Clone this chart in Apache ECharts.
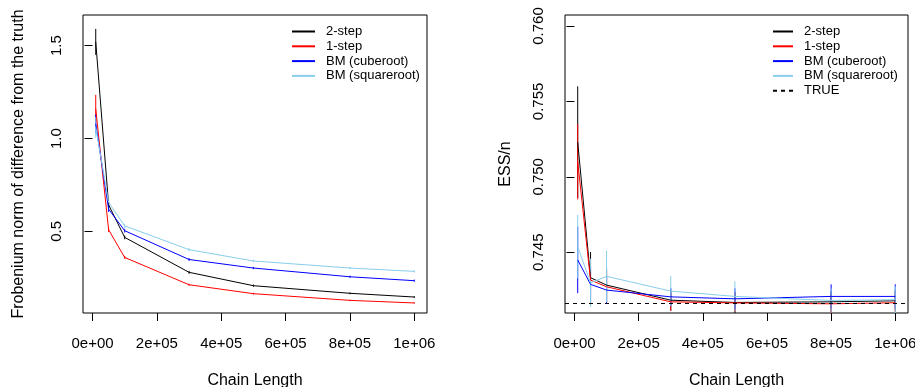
<!DOCTYPE html>
<html>
<head>
<meta charset="utf-8">
<script src="https://cdn.jsdelivr.net/npm/echarts@6/dist/echarts.min.js"></script>
<style>
html,body{margin:0;padding:0;background:#fff;}
#chart{width:915px;height:387px;}
</style>
</head>
<body>
<div id="chart"></div>
<script>
// ---- data ----
const chainLength = [10000, 50000, 100000, 300000, 500000, 800000, 1000000];
const xTicks = [0, 200000, 400000, 600000, 800000, 1000000];
const xTickLabels = ['0e+00', '2e+05', '4e+05', '6e+05', '8e+05', '1e+06'];
const leftYTicks = [0.5, 1.0, 1.5];
const rightYTicks = [0.745, 0.750, 0.755, 0.760];
const seriesNames = ['2-step', '1-step', 'BM (cuberoot)', 'BM (squareroot)'];
const trueName = 'TRUE';

// Frobenius norm panel (mean and half-width of error bar)
const frobTwoStep = [1.52, 0.643, 0.468, 0.280, 0.208, 0.167, 0.147];
const frobTwoStepErr = [0.07, 0.015, 0.010, 0.008, 0.006, 0.005, 0.005];
const frobOneStep = [1.16, 0.509, 0.360, 0.213, 0.165, 0.129, 0.115];
const frobOneStepErr = [0.075, 0.012, 0.008, 0.006, 0.005, 0.004, 0.004];
const frobBMCube = [1.08, 0.620, 0.504, 0.349, 0.303, 0.256, 0.235];
const frobBMCubeErr = [0.05, 0.015, 0.010, 0.008, 0.006, 0.006, 0.006];
const frobBMSquare = [1.06, 0.656, 0.530, 0.402, 0.341, 0.303, 0.285];
const frobBMSquareErr = [0.055, 0.012, 0.010, 0.008, 0.007, 0.006, 0.006];

// ESS/n panel
const essTwoStep = [0.7523, 0.74331, 0.74282, 0.74182, 0.74167, 0.74171, 0.74178];
const essTwoStepErr = [0.0037, 0.0017, 0.0011, 0.0007, 0.0007, 0.0007, 0.0007];
const essOneStep = [0.7510, 0.74315, 0.74271, 0.74171, 0.74164, 0.74158, 0.74165];
const essOneStepErr = [0.0025, 0.0012, 0.0010, 0.0006, 0.0006, 0.0006, 0.0006];
const essBMCube = [0.74449, 0.74287, 0.74249, 0.74204, 0.74191, 0.74207, 0.74207];
const essBMCubeErr = [0.0022, 0.0012, 0.0009, 0.0006, 0.0007, 0.0008, 0.0008];
const essBMSquare = [0.74537, 0.74297, 0.74340, 0.74242, 0.74207, 0.74180, 0.74185];
const essBMSquareErr = [0.0021, 0.0016, 0.0017, 0.0010, 0.0010, 0.0008, 0.0009];
const essTrue = 0.7416;

// ---- styling ----
const colors = ['#000000', '#FF0000', '#0000FF', '#87CEEB'];
const FONT = '"Liberation Sans", Arial, Helvetica, sans-serif';
const xMin = -29600, xMax = 1039600;

function pairs(ys) { return chainLength.map((x, i) => [x, ys[i]]); }
function bars(ys, es) { return chainLength.map((x, i) => [x, ys[i] - es[i], ys[i] + es[i]]); }

function errSeries(idx, ys, es, color) {
  return {
    type: 'custom', xAxisIndex: idx, yAxisIndex: idx, clip: true, silent: true,
    data: bars(ys, es),
    encode: { x: 0, y: [1, 2] },
    renderItem: function (params, api) {
      const x = api.value(0);
      const p1 = api.coord([x, api.value(1)]);
      const p2 = api.coord([x, api.value(2)]);
      return { type: 'line', shape: { x1: p1[0], y1: p1[1], x2: p2[0], y2: p2[1] },
               style: { stroke: color, lineWidth: 1 } };
    },
    z: 3
  };
}
function lineSeries(idx, name, ys, color) {
  return {
    type: 'line', name: name, xAxisIndex: idx, yAxisIndex: idx,
    data: pairs(ys), symbol: 'none', showSymbol: false,
    lineStyle: { color: color, width: 1 }, itemStyle: { color: color }, z: 3
  };
}

const leftSets = [[frobTwoStep, frobTwoStepErr], [frobOneStep, frobOneStepErr], [frobBMCube, frobBMCubeErr], [frobBMSquare, frobBMSquareErr]];
const rightSets = [[essTwoStep, essTwoStepErr], [essOneStep, essOneStepErr], [essBMCube, essBMCubeErr], [essBMSquare, essBMSquareErr]];

const series = [];
leftSets.forEach((s, i) => {
  series.push(lineSeries(0, seriesNames[i], s[0], colors[i]));
  series.push(errSeries(0, s[0], s[1], colors[i]));
});
rightSets.forEach((s, i) => {
  series.push(lineSeries(1, seriesNames[i], s[0], colors[i]));
  series.push(errSeries(1, s[0], s[1], colors[i]));
});
series.push({
  type: 'line', name: trueName, xAxisIndex: 1, yAxisIndex: 1, symbol: 'none', showSymbol: false,
  data: [[xMin, essTrue], [xMax, essTrue]],
  lineStyle: { color: '#000', width: 1, type: [4, 4] }, itemStyle: { color: '#000' }, z: 4
});

function xAxisCfg(idx) {
  return {
    type: 'value', gridIndex: idx, min: xMin, max: xMax,
    name: 'Chain Length', nameLocation: 'middle', nameGap: 60,
    nameTextStyle: { fontFamily: FONT, fontSize: 16, color: '#000' },
    splitLine: { show: false }, axisLine: { show: false },
    axisTick: { show: true, inside: false, length: 8, customValues: xTicks, lineStyle: { color: '#000' } },
    axisLabel: {
      customValues: xTicks, margin: 23, fontFamily: FONT, fontSize: 15, color: '#000',
      formatter: v => { const k = xTicks.indexOf(v); return k >= 0 ? xTickLabels[k] : ''; }
    }
  };
}
function yAxisCfg(idx, min, max, ticks, name, gap, fmt) {
  return {
    type: 'value', gridIndex: idx, min: min, max: max,
    name: name, nameLocation: 'middle', nameGap: gap, nameRotate: 90,
    nameTextStyle: { fontFamily: FONT, fontSize: 16, color: '#000' },
    splitLine: { show: false }, axisLine: { show: false },
    axisTick: { show: true, inside: false, length: 8, customValues: ticks, lineStyle: { color: '#000' } },
    axisLabel: { customValues: ticks, rotate: 90, margin: 19, fontFamily: FONT, fontSize: 15, color: '#000',
      formatter: v => v.toFixed(fmt) }
  };
}
function legendCfg(left, top, width, data) {
  return {
    data: data, orient: 'vertical', left: left, top: top, padding: 0,
    itemWidth: width, itemHeight: 13, itemGap: 1.8, selectedMode: false,
    itemStyle: { opacity: 0 },
    textStyle: { fontFamily: FONT, fontSize: 13, color: '#000', lineHeight: 13, padding: [0, 0, 0, 6] }
  };
}

const option = {
  backgroundColor: '#fff',
  animation: false,
  grid: [
    { left: 83, top: 15, width: 344, height: 298, show: true, borderColor: '#000', borderWidth: 1,
      backgroundColor: 'transparent', containLabel: false, outerBoundsMode: 'none' },
    { left: 565, top: 15, width: 343, height: 298, show: true, borderColor: '#000', borderWidth: 1,
      backgroundColor: 'transparent', containLabel: false, outerBoundsMode: 'none' }
  ],
  xAxis: [xAxisCfg(0), xAxisCfg(1)],
  yAxis: [
    yAxisCfg(0, 0.061, 1.665, leftYTicks, 'Frobenium norm of difference from the truth', 56, 1),
    yAxisCfg(1, 0.74097, 0.76073, rightYTicks, 'ESS/n', 51, 3)
  ],
  legend: [
    legendCfg(291, 25, 23, seriesNames.slice()),
    legendCfg(772, 25, 20, seriesNames.concat([trueName]))
  ],
  series: series
};

const chart = echarts.init(document.getElementById('chart'), null, { renderer: 'canvas' });
chart.setOption(option);
</script>
</body>
</html>
